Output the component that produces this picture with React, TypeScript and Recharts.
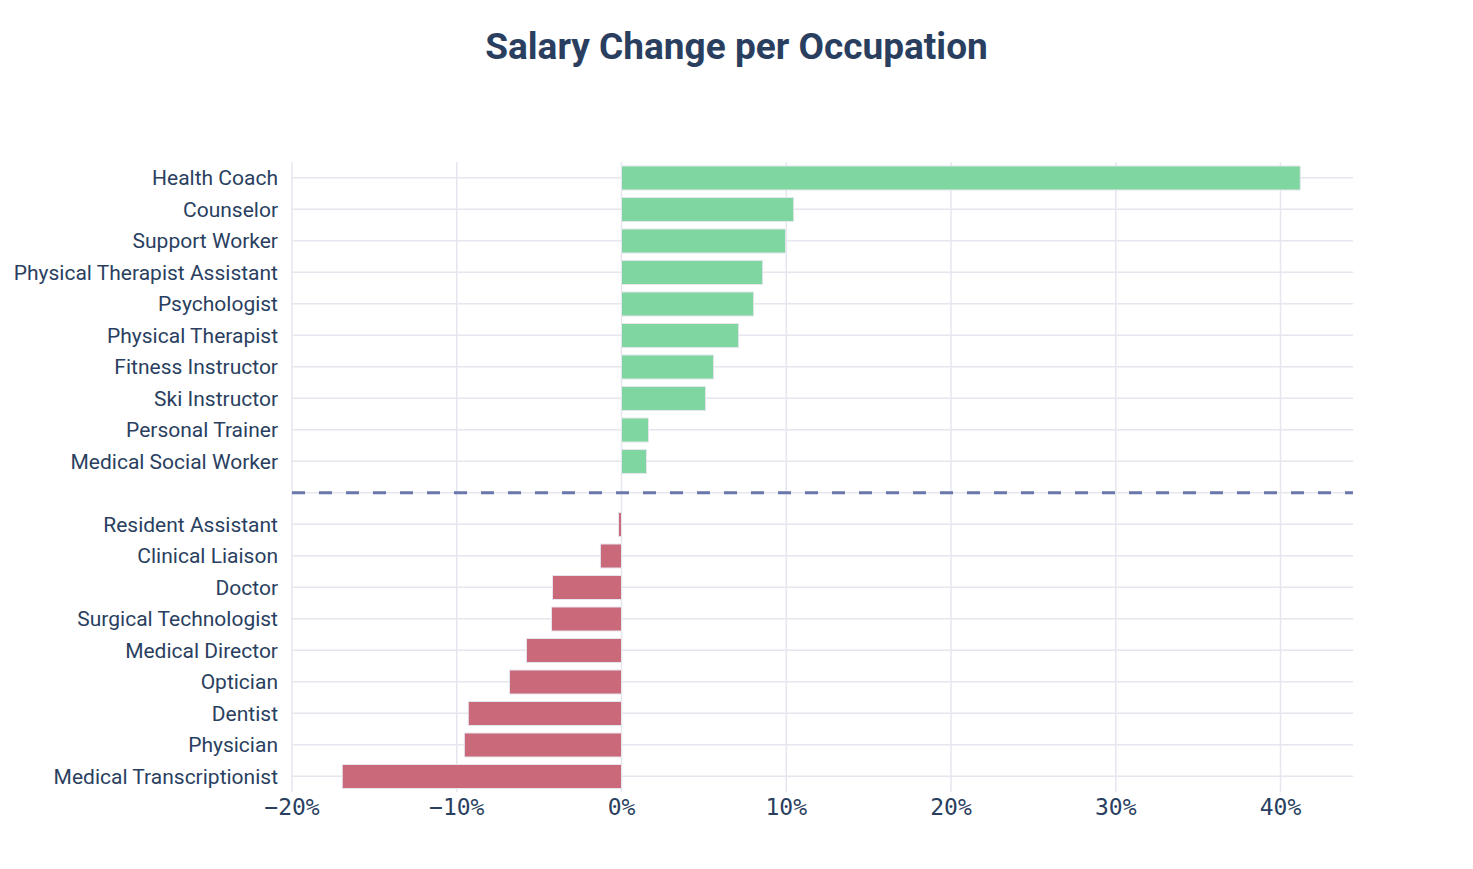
import React from "react";
import {
  BarChart,
  Bar,
  XAxis,
  YAxis,
  CartesianGrid,
  ReferenceLine,
  Cell,
} from "recharts";

const categories = [
  "Health Coach",
  "Counselor",
  "Support Worker",
  "Physical Therapist Assistant",
  "Psychologist",
  "Physical Therapist",
  "Fitness Instructor",
  "Ski Instructor",
  "Personal Trainer",
  "Medical Social Worker",
  " ",
  "Resident Assistant",
  "Clinical Liaison",
  "Doctor",
  "Surgical Technologist",
  "Medical Director",
  "Optician",
  "Dentist",
  "Physician",
  "Medical Transcriptionist",
];

const changes: (number | null)[] = [
  41.2, 10.45, 9.96, 8.57, 8.02, 7.11, 5.59, 5.1, 1.64, 1.52,
  null,
  -0.18, -1.28, -4.19, -4.25, -5.77, -6.8, -9.3, -9.54, -16.95,
];

const xTicks = [-20, -10, 0, 10, 20, 30, 40];

const data = categories.map((name, i) => ({ name, value: changes[i] }));

const TEXT = "#2a3f5f";

export default function App() {
  return (
    <div
      style={{
        position: "absolute",
        left: 0,
        top: 0,
        width: 1473,
        height: 869,
        background: "#fff",
      }}
    >
      <div
        style={{
          position: "absolute",
          left: 0,
          top: 25,
          width: 1473,
          textAlign: "center",
          fontFamily: "Roboto",
          fontWeight: 700,
          fontSize: 37,
          lineHeight: "44px",
          color: TEXT,
        }}
      >
        Salary Change per Occupation
      </div>
      <BarChart
        width={1473}
        height={869}
        layout="vertical"
        data={data}
        margin={{ top: 162, right: 120, bottom: 37, left: 0 }}
        barSize={24}
      >
        <CartesianGrid stroke="#e6e6ee" strokeWidth={1.5} syncWithTicks />
        <XAxis
          type="number"
          domain={[-20, 44.4]}
          ticks={xTicks}
          allowDataOverflow
          tickFormatter={(v: number) => (v < 0 ? "\u2212" + Math.abs(v) : v) + "%"}
          axisLine={false}
          tickLine={false}
          tickSize={0}
          tickMargin={7}
          height={40}
          tick={{ fill: TEXT, fontSize: 23, fontFamily: "DejaVu Sans Mono" }}
        />
        <YAxis
          type="category"
          dataKey="name"
          width={292}
          axisLine={false}
          tickLine={false}
          tickSize={0}
          tickMargin={14}
          interval={0}
          tick={{ fill: TEXT, fontSize: 21, fontFamily: "Roboto" }}
        />
        <ReferenceLine
          y=" "
          stroke="#6a77ab"
          strokeWidth={3}
          strokeDasharray="13 14"
        />
        <Bar
          dataKey="value"
          isAnimationActive={false}
          stroke="#e6e6ee"
          strokeWidth={1}
        >
          {data.map((d, i) => (
            <Cell
              key={i}
              fill={(d.value ?? 0) >= 0 ? "#7fd6a0" : "#c9697a"}
            />
          ))}
        </Bar>
      </BarChart>
    </div>
  );
}
